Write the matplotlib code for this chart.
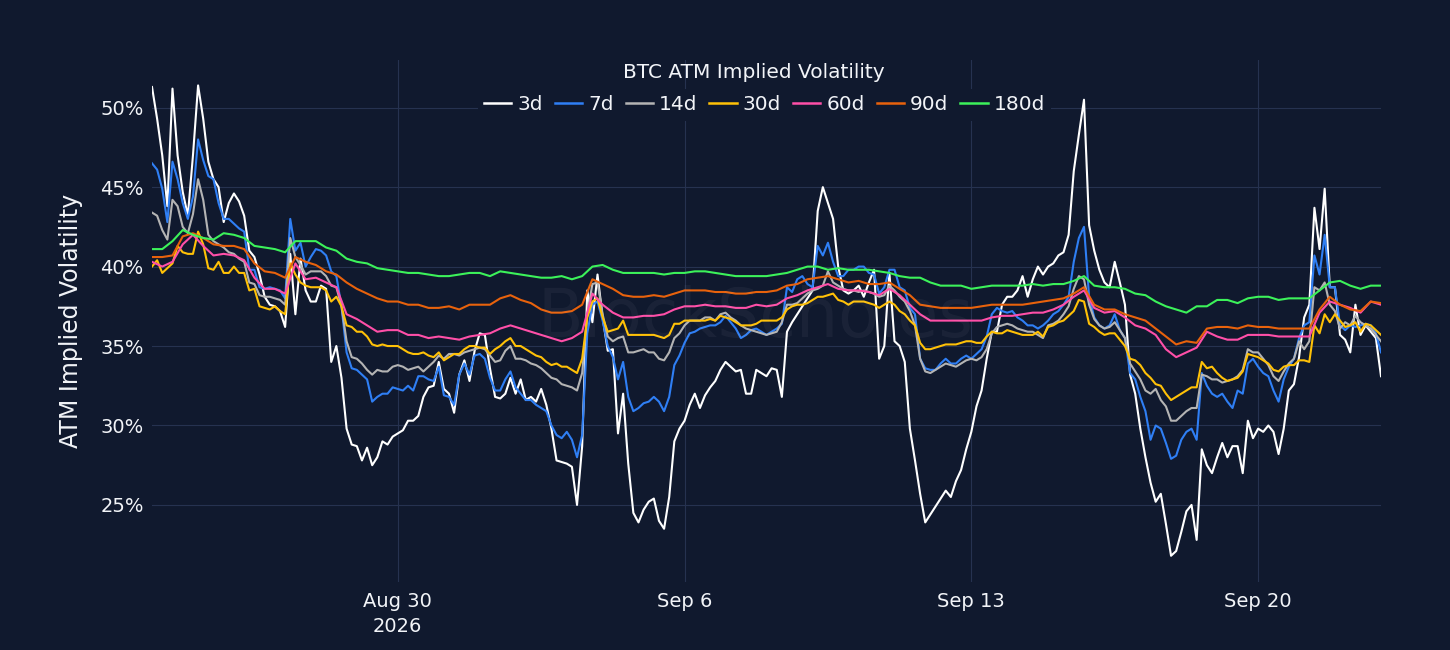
import matplotlib
matplotlib.use("Agg")
import matplotlib.pyplot as plt
import pandas as pd

# ---- data ----
# short tenors sampled every 3 hours, long tenors every 6 hours, Aug 24 2026 00:00 -> Sep 23 2026 00:00
start_time = "2026-08-24 00:00"
n_points_3h = 241
n_points_6h = 121

iv_3d = [51.3, 49.3, 47.0, 43.8, 51.2, 47.0, 44.7, 43.2, 47.0, 51.4, 49.3, 46.6, 45.5, 45.0, 42.8, 44.0, 44.6, 44.1, 43.2, 41.0,
         40.6, 39.5, 38.1, 37.6, 37.5, 37.2, 36.2, 40.8, 37.0, 40.5, 38.5, 37.8, 37.8, 38.8, 38.6, 34.0, 35.0, 33.0, 29.8, 28.8,
         28.7, 27.8, 28.6, 27.5, 28.0, 29.0, 28.8, 29.3, 29.5, 29.7, 30.3, 30.3, 30.6, 31.8, 32.4, 32.5, 34.0, 32.3, 32.0, 30.8,
         33.2, 34.1, 32.8, 34.7, 35.8, 35.7, 33.6, 31.8, 31.7, 32.0, 33.0, 32.0, 32.9, 31.6, 31.8, 31.5, 32.3, 31.3, 29.8, 27.8,
         27.7, 27.6, 27.4, 25.0, 28.7, 38.5, 36.5, 39.5, 36.8, 34.7, 34.8, 29.5, 32.0, 27.6, 24.5, 23.9, 24.7, 25.2, 25.4, 24.0,
         23.5, 25.5, 29.0, 29.8, 30.3, 31.3, 32.0, 31.1, 31.9, 32.4, 32.8, 33.5, 34.0, 33.7, 33.4, 33.5, 32.0, 32.0, 33.5, 33.3,
         33.1, 33.6, 33.5, 31.8, 35.9, 36.5, 37.0, 37.5, 38.0, 38.5, 43.5, 45.0, 44.0, 43.0, 40.0, 38.5, 38.3, 38.5, 38.8, 38.1,
         39.0, 39.8, 34.2, 35.0, 39.6, 35.3, 35.0, 34.0, 29.8, 27.8, 25.7, 23.9, 24.4, 24.9, 25.4, 25.9, 25.5, 26.5, 27.2, 28.5,
         29.6, 31.2, 32.2, 34.2, 35.9, 35.9, 37.6, 38.1, 38.1, 38.5, 39.4, 38.1, 39.2, 40.0, 39.5, 40.0, 40.2, 40.7, 40.9, 42.0,
         46.0, 48.3, 50.5, 42.6, 41.0, 39.8, 39.0, 38.7, 40.3, 39.0, 37.6, 33.2, 32.0, 29.8, 28.0, 26.4, 25.2, 25.7, 23.8, 21.8,
         22.1, 23.3, 24.6, 25.0, 22.8, 28.5, 27.5, 27.0, 28.0, 28.9, 28.0, 28.7, 28.7, 27.0, 30.3, 29.2, 29.8, 29.6, 30.0, 29.6,
         28.2, 29.8, 32.2, 32.6, 34.3, 36.8, 37.6, 43.7, 41.1, 44.9, 38.7, 38.7, 35.7, 35.4, 34.6, 37.6, 35.7, 36.3, 35.9, 35.5,
         33.1]

iv_7d = [46.5, 46.1, 44.9, 42.8, 46.6, 45.5, 44.0, 43.0, 44.4, 48.0, 46.7, 45.7, 45.5, 44.0, 43.0, 43.0, 42.7, 42.4, 42.2, 39.8,
         39.8, 38.7, 38.6, 38.7, 38.6, 38.5, 38.0, 43.0, 41.0, 41.5, 40.0, 40.6, 41.1, 41.0, 40.7, 39.7, 39.4, 37.5, 34.6, 33.6,
         33.5, 33.2, 32.9, 31.5, 31.8, 32.0, 32.0, 32.4, 32.3, 32.2, 32.5, 32.2, 33.1, 33.1, 32.9, 32.8, 33.7, 31.9, 31.8, 31.3,
         33.2, 33.9, 33.2, 34.4, 34.5, 34.2, 33.0, 32.2, 32.2, 32.9, 33.4, 32.4, 32.0, 31.6, 31.6, 31.3, 31.1, 30.9, 30.0, 29.4,
         29.2, 29.6, 29.1, 28.0, 29.4, 35.8, 37.6, 37.8, 36.6, 35.0, 34.3, 32.9, 34.0, 31.8, 30.9, 31.1, 31.4, 31.5, 31.8, 31.5,
         30.9, 31.8, 33.8, 34.4, 35.2, 35.8, 35.9, 36.1, 36.2, 36.3, 36.3, 36.5, 36.9, 36.5, 36.1, 35.5, 35.7, 36.0, 36.1, 35.9,
         35.7, 35.9, 36.1, 36.4, 38.7, 38.4, 39.2, 39.4, 38.9, 38.7, 41.3, 40.7, 41.5, 40.3, 39.4, 39.4, 39.8, 39.8, 40.0, 40.0,
         39.6, 39.5, 38.3, 38.7, 39.8, 39.8, 38.7, 38.5, 37.4, 37.0, 34.2, 33.6, 33.5, 33.5, 33.9, 34.2, 33.9, 33.9, 34.2, 34.4,
         34.2, 34.5, 34.8, 35.6, 37.0, 37.4, 37.2, 37.1, 37.2, 36.8, 36.6, 36.3, 36.3, 36.1, 36.3, 36.6, 37.0, 37.2, 37.6, 38.1,
         40.3, 41.8, 42.5, 38.1, 36.8, 36.3, 36.1, 36.3, 37.0, 36.0, 35.5, 33.3, 32.9, 31.8, 30.9, 29.1, 30.0, 29.8, 28.9, 27.9,
         28.1, 29.1, 29.6, 29.8, 29.1, 33.3, 32.5, 32.0, 31.8, 32.0, 31.5, 31.1, 32.2, 32.0, 33.9, 34.2, 33.7, 33.3, 33.1, 32.2,
         31.5, 32.9, 33.7, 34.2, 35.5, 36.3, 36.5, 40.7, 39.5, 42.0, 38.7, 38.7, 36.3, 36.0, 36.3, 36.2, 36.3, 36.4, 36.3, 35.8,
         34.6]

iv_14d = [43.4, 43.2, 42.3, 41.7, 44.2, 43.8, 42.5, 42.1, 43.3, 45.5, 44.2, 42.0, 41.6, 41.4, 41.2, 40.9, 40.8, 40.5, 40.3, 39.0,
          38.9, 38.2, 38.1, 38.1, 38.0, 37.9, 37.6, 41.8, 40.6, 40.1, 39.5, 39.7, 39.7, 39.7, 39.4, 38.8, 38.7, 37.5, 35.3, 34.3,
          34.2, 33.9, 33.5, 33.2, 33.5, 33.4, 33.4, 33.7, 33.8, 33.7, 33.5, 33.6, 33.7, 33.4, 33.7, 34.0, 34.4, 34.2, 34.5, 34.5,
          34.4, 34.6, 34.7, 34.8, 34.9, 34.8, 34.4, 34.0, 34.1, 34.7, 35.0, 34.2, 34.2, 34.1, 33.9, 33.8, 33.6, 33.3, 33.0, 32.9,
          32.6, 32.5, 32.4, 32.2, 33.3, 37.0, 38.9, 39.0, 37.0, 35.6, 35.3, 35.5, 35.6, 34.6, 34.6, 34.7, 34.8, 34.6, 34.6, 34.2,
          34.1, 34.6, 35.5, 35.8, 36.3, 36.6, 36.6, 36.6, 36.8, 36.8, 36.6, 37.0, 37.1, 36.8, 36.6, 36.3, 36.1, 36.0, 35.9, 35.8,
          35.7, 35.8, 35.9, 36.5, 37.6, 37.6, 37.7, 38.0, 38.3, 38.5, 38.6, 38.8, 39.7, 39.0, 38.8, 38.6, 38.5, 38.5, 38.4, 38.5,
          38.4, 38.3, 38.1, 38.2, 38.8, 38.5, 38.1, 37.8, 37.2, 36.3, 34.2, 33.4, 33.3, 33.5, 33.7, 33.9, 33.8, 33.7, 33.9, 34.1,
          34.2, 34.1, 34.3, 34.8, 35.8, 36.2, 36.3, 36.4, 36.3, 36.1, 36.0, 35.9, 35.9, 35.7, 35.5, 36.3, 36.4, 36.6, 37.0, 37.5,
          38.6, 39.4, 39.2, 37.6, 36.7, 36.3, 36.1, 36.2, 36.5, 36.0, 35.5, 33.9, 33.4, 32.9, 32.2, 32.0, 32.3, 31.6, 31.2, 30.3,
          30.3, 30.6, 30.9, 31.1, 31.1, 33.2, 33.1, 32.9, 32.9, 32.7, 32.8, 32.9, 33.1, 33.5, 34.8, 34.6, 34.6, 34.2, 33.8, 33.1,
          32.8, 33.4, 33.9, 34.2, 35.3, 34.8, 35.3, 38.7, 38.5, 39.0, 37.6, 37.2, 36.1, 36.5, 36.3, 36.9, 36.5, 36.3, 36.1, 35.7,
          35.3]

iv_30d = [40.0, 40.4, 39.6, 39.9, 40.2, 41.3, 40.9, 40.8, 40.8, 42.2, 41.4, 39.9, 39.8, 40.3, 39.6, 39.6, 40.0, 39.6, 39.6, 38.5,
          38.6, 37.5, 37.4, 37.3, 37.5, 37.2, 37.0, 40.2, 39.5, 39.0, 38.8, 38.7, 38.7, 38.7, 38.5, 37.8, 38.1, 37.5, 36.3, 36.2,
          35.9, 35.9, 35.6, 35.1, 35.0, 35.1, 35.0, 35.0, 35.0, 34.8, 34.6, 34.5, 34.5, 34.6, 34.4, 34.3, 34.6, 34.1, 34.3, 34.5,
          34.5, 34.8, 35.0, 35.0, 34.9, 34.9, 34.5, 34.8, 35.0, 35.3, 35.5, 35.0, 35.0, 34.8, 34.6, 34.4, 34.3, 34.0, 33.8, 33.9,
          33.7, 33.7, 33.5, 33.3, 34.2, 36.8, 37.8, 38.0, 36.8, 35.9, 36.0, 36.1, 36.6, 35.7, 35.7, 35.7, 35.7, 35.7, 35.7, 35.6,
          35.5, 35.7, 36.4, 36.4, 36.6, 36.6, 36.6, 36.6, 36.6, 36.7, 36.6, 36.9, 36.8, 36.7, 36.5, 36.3, 36.3, 36.3, 36.4, 36.6,
          36.6, 36.6, 36.6, 36.8, 37.3, 37.5, 37.6, 37.6, 37.7, 37.9, 38.1, 38.1, 38.2, 38.3, 37.9, 37.8, 37.6, 37.8, 37.8, 37.8,
          37.7, 37.6, 37.4, 37.6, 37.8, 37.6, 37.2, 37.0, 36.6, 36.3, 35.2, 34.8, 34.8, 34.9, 35.0, 35.1, 35.1, 35.1, 35.2, 35.3,
          35.3, 35.2, 35.2, 35.6, 35.9, 35.8, 35.8, 36.0, 35.9, 35.8, 35.7, 35.7, 35.7, 35.9, 35.6, 36.2, 36.3, 36.5, 36.6, 36.9,
          37.2, 37.9, 37.8, 36.4, 36.2, 35.9, 35.7, 35.8, 35.8, 35.4, 35.0, 34.2, 34.1, 33.8, 33.3, 33.0, 32.6, 32.5, 32.0, 31.6,
          31.8, 32.0, 32.2, 32.4, 32.4, 34.0, 33.6, 33.7, 33.3, 33.0, 32.8, 32.9, 33.0, 33.4, 34.5, 34.4, 34.3, 34.1, 33.9, 33.5,
          33.4, 33.7, 33.8, 33.8, 34.1, 34.1, 34.0, 36.3, 35.8, 37.0, 36.5, 37.0, 36.6, 36.2, 36.3, 36.5, 35.9, 36.4, 36.3, 36.0,
          35.7]

iv_60d = [40.3, 40.0, 40.3, 41.4, 42.0, 41.3, 40.7, 40.8, 40.7, 40.4, 39.3, 38.6, 38.6, 38.3, 40.2, 39.2, 39.3, 39.0, 38.7, 37.0, 36.7, 36.3, 35.9, 36.0, 36.0,
          35.7, 35.7, 35.5, 35.6, 35.5, 35.4, 35.6, 35.7, 35.8, 36.1, 36.3, 36.1, 35.9, 35.7, 35.5, 35.3, 35.5, 35.9, 38.3, 37.6, 37.1, 36.8, 36.8, 36.9, 36.9, 37.0, 37.3, 37.5,
          37.5, 37.6, 37.5, 37.5, 37.4, 37.4, 37.6, 37.5, 37.6, 38.0, 38.2, 38.5, 38.7, 38.9, 38.6, 38.5, 38.5, 38.4, 38.2, 38.6, 38.2, 37.6, 37.0, 36.6, 36.6, 36.6, 36.6, 36.6,
          36.6, 36.8, 36.9, 36.9, 37.0, 37.1, 37.1, 37.3, 37.6, 38.1, 38.5, 37.4, 37.1, 37.2, 36.8, 36.3, 36.1, 35.7, 34.8, 34.3, 34.6, 34.9, 35.9, 35.6, 35.4, 35.4, 35.7, 35.7,
          35.7, 35.6, 35.6, 35.6, 35.6, 37.1, 37.8, 37.6, 37.4, 37.1, 37.8, 37.6]

iv_90d = [40.6, 40.6, 40.7, 41.9, 42.1, 41.8, 41.4, 41.3, 41.3, 41.1, 40.2, 39.7, 39.6, 39.3, 40.6, 40.3, 40.1, 39.7, 39.5, 39.0, 38.6, 38.3, 38.0, 37.8, 37.8,
          37.6, 37.6, 37.4, 37.4, 37.5, 37.3, 37.6, 37.6, 37.6, 38.0, 38.2, 37.9, 37.7, 37.3, 37.1, 37.1, 37.2, 37.6, 39.2, 38.9, 38.6, 38.2, 38.1, 38.1, 38.2, 38.1, 38.3, 38.5,
          38.5, 38.5, 38.4, 38.4, 38.3, 38.3, 38.4, 38.4, 38.5, 38.8, 38.9, 39.2, 39.3, 39.4, 39.2, 39.0, 39.1, 38.9, 38.9, 39.0, 38.6, 38.2, 37.6, 37.5, 37.4, 37.4, 37.4, 37.4,
          37.5, 37.6, 37.6, 37.6, 37.6, 37.7, 37.8, 37.9, 38.0, 38.3, 38.7, 37.6, 37.3, 37.3, 37.0, 36.8, 36.6, 36.1, 35.6, 35.1, 35.3, 35.2, 36.1, 36.2, 36.2, 36.1, 36.3, 36.2,
          36.2, 36.1, 36.1, 36.1, 36.1, 37.3, 38.1, 37.6, 37.3, 37.2, 37.8, 37.7]

iv_180d = [41.1, 41.1, 41.6, 42.3, 42.0, 41.8, 41.7, 42.1, 42.0, 41.8, 41.3, 41.2, 41.1, 40.9, 41.6, 41.6, 41.6, 41.2, 41.0, 40.5, 40.3, 40.2, 39.9, 39.8, 39.7,
           39.6, 39.6, 39.5, 39.4, 39.4, 39.5, 39.6, 39.6, 39.4, 39.7, 39.6, 39.5, 39.4, 39.3, 39.3, 39.4, 39.2, 39.4, 40.0, 40.1, 39.8, 39.6, 39.6, 39.6, 39.6, 39.5, 39.6, 39.6,
           39.7, 39.7, 39.6, 39.5, 39.4, 39.4, 39.4, 39.4, 39.5, 39.6, 39.8, 40.0, 40.0, 39.8, 39.9, 39.8, 39.8, 39.8, 39.7, 39.6, 39.4, 39.3, 39.3, 39.0, 38.8, 38.8, 38.8, 38.6,
           38.7, 38.8, 38.8, 38.8, 38.8, 38.9, 38.8, 38.9, 38.9, 39.1, 39.4, 38.8, 38.7, 38.7, 38.6, 38.3, 38.2, 37.8, 37.5, 37.3, 37.1, 37.5, 37.5, 37.9, 37.9, 37.7, 38.0, 38.1,
           38.1, 37.9, 38.0, 38.0, 38.0, 38.5, 39.0, 39.1, 38.8, 38.6, 38.8, 38.8]

series_names = ["3d", "7d", "14d", "30d", "60d", "90d", "180d"]
series_colors = ["#ffffff", "#2f7ff5", "#b4b4b4", "#ffc107", "#ff4fa8", "#e8620c", "#3cf25a"]
series_step = ["3h", "3h", "3h", "3h", "6h", "6h", "6h"]

tick_dates = ["2026-08-30", "2026-09-06", "2026-09-13", "2026-09-20"]
tick_labels = ["Aug 30\n2026", "Sep 6", "Sep 13", "Sep 20"]
y_ticks = [25, 30, 35, 40, 45, 50]

# ---- figure ----
BG = "#10192e"
GRID = "#263250"
TXT = "#f2f4f8"

time_axes = {
    "3h": pd.date_range(start_time, periods=n_points_3h, freq="3h"),
    "6h": pd.date_range(start_time, periods=n_points_6h, freq="6h"),
}
all_series = [iv_3d, iv_7d, iv_14d, iv_30d, iv_60d, iv_90d, iv_180d]

fig = plt.figure(figsize=(14.5, 6.5), dpi=100, facecolor=BG)
ax = fig.add_axes([152 / 1450, 68 / 650, 1229 / 1450, 522 / 650], facecolor=BG)

# watermark
fig.text(755 / 1450, 1 - 318 / 650, "BlockScholes", color="#ffffff", alpha=0.045,
         fontsize=48, ha="center", va="center", zorder=0)

handles = []
for name, vals, col, step in zip(series_names, all_series, series_colors, series_step):
    h, = ax.plot(time_axes[step], vals, color=col, lw=1.5, label=name, zorder=3)
    handles.append(h)

ax.set_xlim(time_axes["6h"][0], time_axes["6h"][-1])
ax.set_ylim(20.15, 53.0)

ax.set_yticks(y_ticks)
ax.set_yticklabels([f"{v}%" for v in y_ticks])
ax.set_xticks(pd.to_datetime(tick_dates))
ax.set_xticklabels(tick_labels, linespacing=1.45)

ax.grid(True, color=GRID, lw=0.8, zorder=0)
ax.set_axisbelow(True)
for s in ax.spines.values():
    s.set_visible(False)
ax.tick_params(axis="both", length=0, colors=TXT, labelsize=14)
ax.tick_params(axis="x", pad=7)
ax.tick_params(axis="y", pad=6)

fig.text(71 / 1450, 1 - 321 / 650, "ATM Implied Volatility", rotation=90,
         ha="center", va="center", color=TXT, fontsize=17)

fig.text(754 / 1450, 1 - 72 / 650, "BTC ATM Implied Volatility", ha="center",
         va="center", color=TXT, fontsize=14.5)

leg = ax.legend(handles=handles, loc="center", ncol=7,
                bbox_to_anchor=(764.5 / 1450, 1 - 105 / 650),
                bbox_transform=fig.transFigure, frameon=True,
                facecolor=BG, edgecolor="none", framealpha=1.0,
                fontsize=14.5, handlelength=1.35, handletextpad=0.3,
                columnspacing=0.6, borderpad=0.3)
for t in leg.get_texts():
    t.set_color(TXT)
for lh in leg.get_lines():
    lh.set_linewidth(1.8)

fig.savefig("out.png", dpi=100, facecolor=BG)
